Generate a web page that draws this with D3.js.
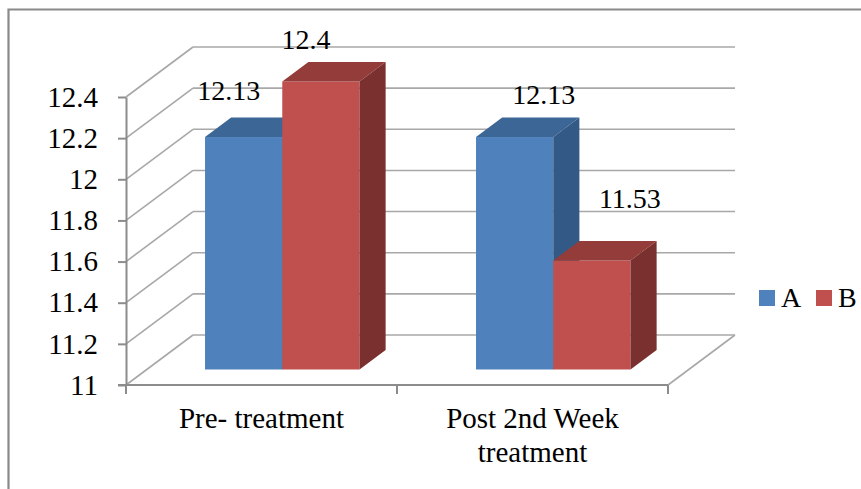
<!DOCTYPE html>
<html>
<head>
<meta charset="utf-8">
<script src="https://cdn.jsdelivr.net/npm/d3@7"></script>
<style>
  html, body { margin: 0; padding: 0; background: #fff; }
  svg { display: block; }
  svg text { font-family: "Liberation Serif", "Tinos", "Times New Roman", "Times", serif !important; fill: #000; }
</style>
</head>
<body>
<svg id="chart" width="861" height="489"></svg>
<script>
// Data
const categories = ["Pre- treatment", "Post 2nd Week treatment"];
const seriesNames = ["A", "B"];
const seriesA = [12.13, 12.13];
const seriesB = [12.4, 11.53];
const yTicks = [11, 11.2, 11.4, 11.6, 11.8, 12, 12.2, 12.4];

const colors = {
  A: { front: "#4F81BD", top: "#3C6695", side: "#335A86" },
  B: { front: "#C0504D", top: "#943C3A", side: "#7A302F" }
};

const svg = d3.select("#chart");

// Outer frame (open on the right and bottom)
svg.append("path")
  .attr("d", "M8.5,495 L8.5,9.5 L870,9.5")
  .attr("fill", "none").attr("stroke", "#8a8a8a").attr("stroke-width", 2.2);

// Plot geometry
const frontLeft = 126, frontRight = 668;
const depth = { dx: 67, dy: -50 };
const y = d3.scaleLinear().domain([11, 12.4]).range([385, 97]);
const x = d3.scaleBand().domain(categories).range([frontLeft, frontRight]);
const groupFrac = 0.57;           // share of band used by the bar group
const d1 = 0.31, d2 = 0.70;       // front and back depth of bars

const gridColor = "#a8a8a8";
const axisColor = "#8c8c8c";

// Wall and floor gridlines
const grid = svg.append("g");
yTicks.forEach(t => {
  const yf = y(t), yb = y(t) + depth.dy;
  grid.append("line")
    .attr("x1", frontLeft).attr("y1", yf)
    .attr("x2", frontLeft + depth.dx).attr("y2", yb)
    .attr("stroke", gridColor).attr("stroke-width", 1.6);
  grid.append("line")
    .attr("x1", frontLeft + depth.dx).attr("y1", yb)
    .attr("x2", frontRight + depth.dx).attr("y2", yb)
    .attr("stroke", gridColor).attr("stroke-width", 1.6);
});
// Floor right edge
grid.append("line")
  .attr("x1", frontRight).attr("y1", y(11))
  .attr("x2", frontRight + depth.dx).attr("y2", y(11) + depth.dy)
  .attr("stroke", gridColor).attr("stroke-width", 1.6);

// Y axis
const yAxis = d3.axisLeft(y)
  .tickValues(yTicks)
  .tickSize(8).tickSizeOuter(0).tickPadding(20)
  .tickFormat(d => String(+d.toFixed(1)));
const gy = svg.append("g").attr("transform", `translate(${frontLeft},0)`).call(yAxis);
gy.attr("font-family", null);
gy.select(".domain").attr("stroke", axisColor).attr("stroke-width", 2);
gy.selectAll(".tick line").attr("stroke", axisColor).attr("stroke-width", 2);
gy.selectAll(".tick text")
  .attr("font-size", 29).attr("fill", "#000");

// X axis line and boundary ticks
const gx = svg.append("g");
gx.append("line")
  .attr("x1", frontLeft - 8).attr("y1", y(11))
  .attr("x2", frontRight).attr("y2", y(11))
  .attr("stroke", axisColor).attr("stroke-width", 2);
const bounds = categories.map(c => x(c)).concat([x(categories[categories.length - 1]) + x.bandwidth()]);
bounds.forEach(bx => {
  gx.append("line")
    .attr("x1", bx).attr("y1", y(11))
    .attr("x2", bx).attr("y2", y(11) + 9)
    .attr("stroke", axisColor).attr("stroke-width", 2);
});

// Category labels, wrapped to the band width
const catG = svg.append("g");
categories.forEach(c => {
  const cx = x(c) + x.bandwidth() / 2;
  const t = catG.append("text")
    .attr("x", cx).attr("y", 428)
    .attr("text-anchor", "middle").attr("font-size", 29);
  const words = c.split(" ");
  let line = [];
  let tspan = t.append("tspan").attr("x", cx).attr("dy", 0);
  words.forEach(w => {
    line.push(w);
    tspan.text(line.join(" "));
    if (tspan.node().getComputedTextLength() > x.bandwidth() * 0.75 && line.length > 1) {
      line.pop();
      tspan.text(line.join(" "));
      line = [w];
      tspan = t.append("tspan").attr("x", cx).attr("dy", 34).text(w);
    }
  });
});

// 3D bars
const groupW = x.bandwidth() * groupFrac;
const barW = groupW / seriesNames.length;
const offF = { dx: depth.dx * d1, dy: depth.dy * d1 };
const bd = { dx: depth.dx * (d2 - d1), dy: depth.dy * (d2 - d1) };

const bars = [];
categories.forEach((c, i) => {
  const gx0 = x(c) + (x.bandwidth() - groupW) / 2 + offF.dx;
  [seriesA[i], seriesB[i]].forEach((v, s) => {
    bars.push({ cat: c, series: seriesNames[s], value: v, x0: gx0 + s * barW });
  });
});

const barG = svg.append("g");
bars.forEach(b => {
  const c = colors[b.series];
  const x0 = b.x0, x1 = b.x0 + barW;
  const yT = y(b.value) + offF.dy, yB = y(11) + offF.dy;
  barG.append("rect")
    .attr("x", x0).attr("y", yT).attr("width", barW).attr("height", yB - yT)
    .attr("fill", c.front);
  barG.append("polygon")
    .attr("points", [[x0, yT], [x0 + bd.dx, yT + bd.dy], [x1 + bd.dx, yT + bd.dy], [x1, yT]].map(p => p.join(",")).join(" "))
    .attr("fill", c.top);
  barG.append("polygon")
    .attr("points", [[x1, yT], [x1 + bd.dx, yT + bd.dy], [x1 + bd.dx, yB + bd.dy], [x1, yB]].map(p => p.join(",")).join(" "))
    .attr("fill", c.side);
});

// Value labels (nudged from each bar's top-front edge)
const labelNudge = [[-15, -37], [-15, -33], [29, -33], [38, -52]];
const labG = svg.append("g");
bars.forEach((b, i) => {
  const cx = b.x0 + barW / 2 + labelNudge[i][0];
  const cy = y(b.value) + offF.dy + labelNudge[i][1];
  labG.append("text")
    .attr("x", cx).attr("y", cy)
    .attr("text-anchor", "middle").attr("font-size", 28)
    .text(String(b.value));
});

// Legend
const legend = svg.append("g").attr("transform", "translate(759,290)");
seriesNames.forEach((s, i) => {
  const lg = legend.append("g").attr("transform", `translate(${i * 57},0)`);
  lg.append("rect").attr("width", 16).attr("height", 16).attr("fill", colors[s].front);
  lg.append("text").attr("x", 22).attr("y", 17).attr("font-size", 28).text(s);
});
</script>
</body>
</html>
